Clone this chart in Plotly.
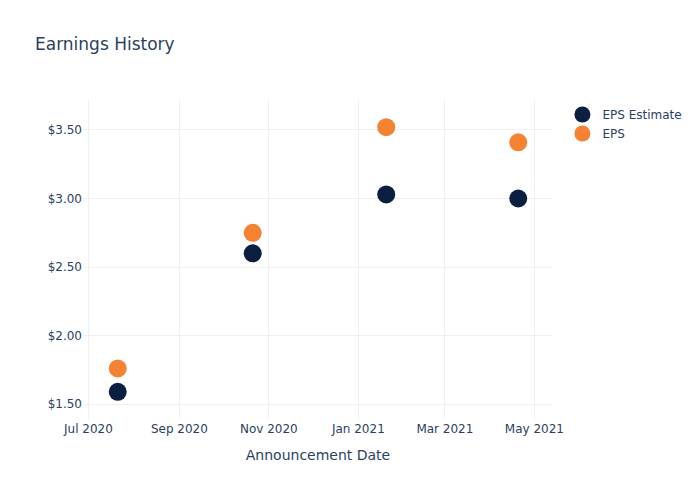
import plotly.graph_objects as go

dates = ["2020-07-21", "2020-10-21", "2021-01-20", "2021-04-20"]
eps_estimate = [1.59, 2.60, 3.03, 3.00]
eps_actual = [1.76, 2.75, 3.52, 3.41]

fig = go.Figure()
fig.add_trace(go.Scatter(x=dates, y=eps_estimate, mode="markers", name="EPS Estimate",
                         marker=dict(size=18, color="#0b1f41")))
fig.add_trace(go.Scatter(x=dates, y=eps_actual, mode="markers", name="EPS",
                         marker=dict(size=18, color="#f58232")))
fig.update_layout(
    template="plotly_white",
    width=700, height=500,
    font=dict(family="DejaVu Sans"),
    title=dict(text="Earnings History", x=0.05, y=0.923),
    margin=dict(l=83, r=147, t=100, b=81),
    xaxis=dict(title="Announcement Date", ticklabelstandoff=1, gridcolor="#eef0f4"),
    yaxis=dict(tickprefix="$", tickformat=".2f", gridcolor="#eef0f4"),
    legend=dict(x=1.02, y=1),
)
fig.write_html("out.html")
